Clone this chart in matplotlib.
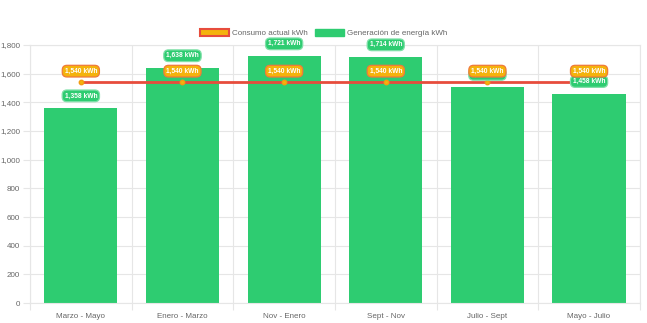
import matplotlib
matplotlib.use('Agg')
from matplotlib import pyplot as plt
from matplotlib.patches import Patch
from matplotlib.ticker import FuncFormatter, MultipleLocator
import numpy as np

plt.rcParams['font.family'] = ['Liberation Sans', 'DejaVu Sans']

# Periodos y valores (kWh)
periodos = ['Marzo - Mayo', 'Enero - Marzo', 'Nov - Enero', 'Sept - Nov', 'Julio - Sept', 'Mayo - Julio']
generacion = [1358, 1638, 1721, 1714, 1508, 1458]
consumo = [1540, 1540, 1540, 1540, 1540, 1540]

verde = '#2ecc71'
rojo = '#e74c3c'
naranja = '#f4b30c'
gris = '#666666'
rejilla = '#e6e6e6'

fig = plt.figure(figsize=(6.47, 3.23), dpi=100)
ax = fig.add_axes([0.0464, 0.0619, 0.9426, 0.7988])

x = np.arange(len(periodos))
ax.bar(x, generacion, width=0.72, color=verde, zorder=2)
ax.plot(x, consumo, color=rojo, lw=2, marker='o', ms=3.2,
        mfc=naranja, mec='#f39c12', zorder=3)

ax.set_xlim(-0.5, len(periodos) - 0.5)
ax.set_ylim(0, 1800)
ax.yaxis.set_major_locator(MultipleLocator(200))
ax.yaxis.set_major_formatter(FuncFormatter(lambda v, p: f'{int(v):,}'))
ax.set_xticks(x)
ax.set_xticklabels(periodos)
ax.set_xticks(np.arange(-0.5, len(periodos)), minor=True)

ax.tick_params(axis='x', which='major', length=0, pad=7, labelsize=5.8, labelcolor=gris)
ax.tick_params(axis='x', which='minor', length=5, color=rejilla, width=0.8)
ax.tick_params(axis='y', length=5, color=rejilla, width=0.8, pad=2,
               labelsize=5.8, labelcolor=gris)

ax.grid(axis='y', which='major', color=rejilla, lw=0.8, zorder=0)
ax.grid(axis='x', which='minor', color=rejilla, lw=0.8, zorder=0)
ax.set_axisbelow(True)
for s in ax.spines.values():
    s.set_color(rejilla)
    s.set_linewidth(0.8)

def etiqueta(xi, yi, texto, fondo, borde, dy, z):
    ax.annotate(texto, (xi, yi), xytext=(0, dy), textcoords='offset points',
                ha='center', va='center', fontsize=4.8, fontweight='bold',
                color='white', zorder=z, annotation_clip=False,
                bbox=dict(boxstyle='round,pad=0.35,rounding_size=0.7',
                          fc=fondo, ec=borde, lw=0.9))

# Etiquetas de generación primero, consumo por encima
for xi, v in zip(x, generacion):
    etiqueta(xi, v, f'{v:,} kWh', verde, '#7fe0a8', 9, 5)
for xi, v in zip(x, consumo):
    etiqueta(xi, v, f'{v:,} kWh', naranja, '#f07a3a', 8, 6)

handles = [Patch(facecolor=naranja, edgecolor=rojo, lw=1.5, label='Consumo actual kWh'),
           Patch(facecolor=verde, edgecolor=verde, label='Generación de energía kWh')]
fig.legend(handles=handles, loc='center', bbox_to_anchor=(0.5, 0.898), ncol=2,
           frameon=False, fontsize=5.8, handlelength=3.6, handleheight=1.1,
           handletextpad=0.4, columnspacing=0.9, labelcolor=gris)

fig.savefig('out.png', dpi=100)
